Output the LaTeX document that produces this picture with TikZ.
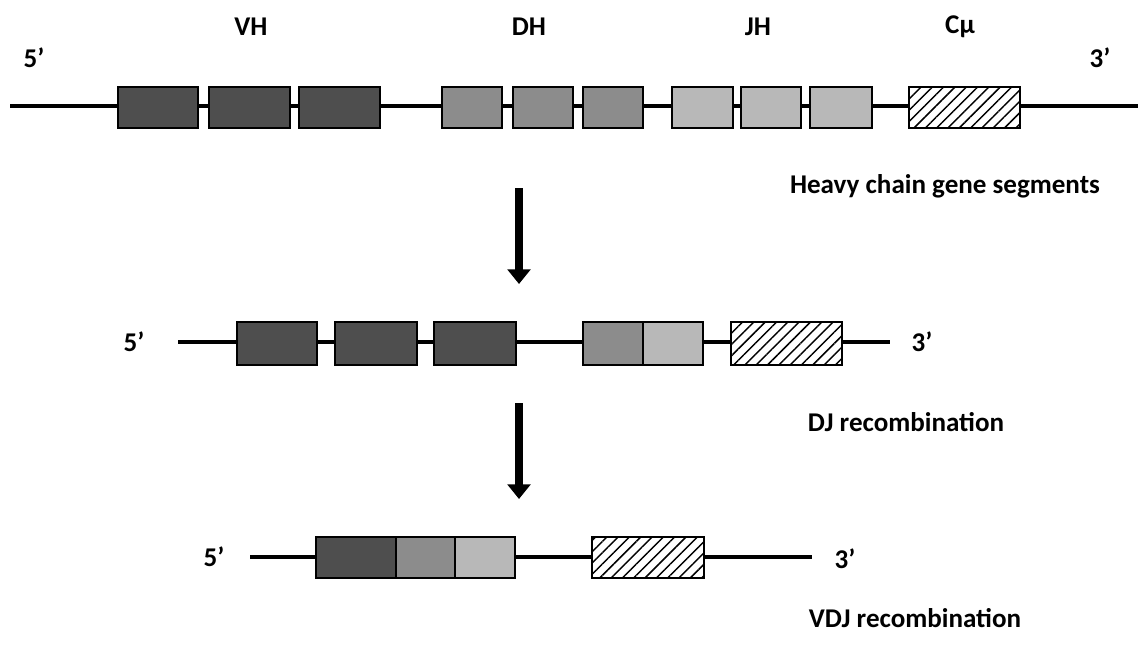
\documentclass[tikz,border=0pt]{standalone}
\usepackage{fontspec}
\setmainfont{Carlito}
\usetikzlibrary{fit,patterns.meta,arrows.meta,backgrounds}
\tikzset{
  gbox/.style={draw=black, line width=2.2pt, inner sep=0pt},
  vseg/.style={gbox, fill=vcol},
  dseg/.style={gbox, fill=dcol},
  jseg/.style={gbox, fill=jcol},
  cseg/.style={gbox, fill=white, postaction={pattern={Lines[angle=45,distance=6pt,line width=1.1pt]}}},
  backbone/.style={line width=2.3pt, black},
  lbl/.style={font=\fontsize{20.3}{24}\selectfont\bfseries, inner sep=0pt},
  step arrow/.style={line width=6pt, -{Triangle[width=17pt,length=11pt]}}
}
\definecolor{vcol}{RGB}{78,78,78}
\definecolor{dcol}{RGB}{140,140,140}
\definecolor{jcol}{RGB}{184,184,184}
\begin{document}
\begin{tikzpicture}[x=0.75pt,y=-0.75pt]
\useasboundingbox (0,0) rectangle (1144,646);
% ---------- row 1 ----------
\coordinate (r1s) at (10,106);
\coordinate (r1e) at (1138,106);
\draw[backbone] (r1s) -- (r1e);
\node[vseg, fit={(118,87) (198,128)}] (v1) {};
\node[vseg, fit={(209,87) (290,128)}] (v2) {};
\node[vseg, fit={(299,87) (380,128)}] (v3) {};
\node[dseg, fit={(442,87) (502,128)}] (d1) {};
\node[dseg, fit={(513,87) (573,128)}] (d2) {};
\node[dseg, fit={(583,87) (643,128)}] (d3) {};
\node[jseg, fit={(672,87) (733,128)}] (j1) {};
\node[jseg, fit={(741,87) (801,128)}] (j2) {};
\node[jseg, fit={(810,87) (872,128)}] (j3) {};
\node[cseg, fit={(909,87) (1020,128)}] (c1) {};
\node[lbl] (p5a) at (34,58) {5’};
\node[lbl] (p3a) at (1100,58) {3’};
\node[lbl] (lv) at (251,27) {VH};
\node[lbl] (ld) at (529,27) {DH};
\node[lbl] (lj) at (758,27) {JH};
\node[lbl] (lc) at (960,27) {Cμ};
\node[lbl] (t1) at (945,186) {Heavy chain gene segments};
% arrow 1
\coordinate (a1s) at (519,188);
\coordinate (a1e) at (519,284);
\draw[step arrow] (a1s) -- (a1e);
% ---------- row 2 ----------
\coordinate (r2s) at (178,342);
\coordinate (r2e) at (890,342);
\draw[backbone] (r2s) -- (r2e);
\node[vseg, fit={(237,322) (317,365)}] (w1) {};
\node[vseg, fit={(335,322) (417,365)}] (w2) {};
\node[vseg, fit={(434,322) (516,365)}] (w3) {};
\node[dseg, fit={(583,322) (643,365)}] (dj1) {};
\node[jseg, fit={(643,322) (703,365)}] (dj2) {};
\node[cseg, fit={(731,322) (842,365)}] (c2) {};
\node[lbl] (p5b) at (134,342) {5’};
\node[lbl] (p3b) at (922,342) {3’};
\node[lbl] (t2) at (906,422) {DJ recombination};
% arrow 2
\coordinate (a2s) at (519,403);
\coordinate (a2e) at (519,499);
\draw[step arrow] (a2s) -- (a2e);
% ---------- row 3 ----------
\coordinate (r3s) at (250,557);
\coordinate (r3e) at (812,557);
\draw[backbone] (r3s) -- (r3e);
\node[vseg, fit={(316,537) (396,578)}] (x1) {};
\node[dseg, fit={(396,537) (455,578)}] (x2) {};
\node[jseg, fit={(455,537) (515,578)}] (x3) {};
\node[cseg, fit={(592,537) (704,578)}] (c3) {};
\node[lbl] (p5c) at (214,557) {5’};
\node[lbl] (p3c) at (845,559) {3’};
\node[lbl] (t3) at (915,618) {VDJ recombination};
\end{tikzpicture}
\end{document}
